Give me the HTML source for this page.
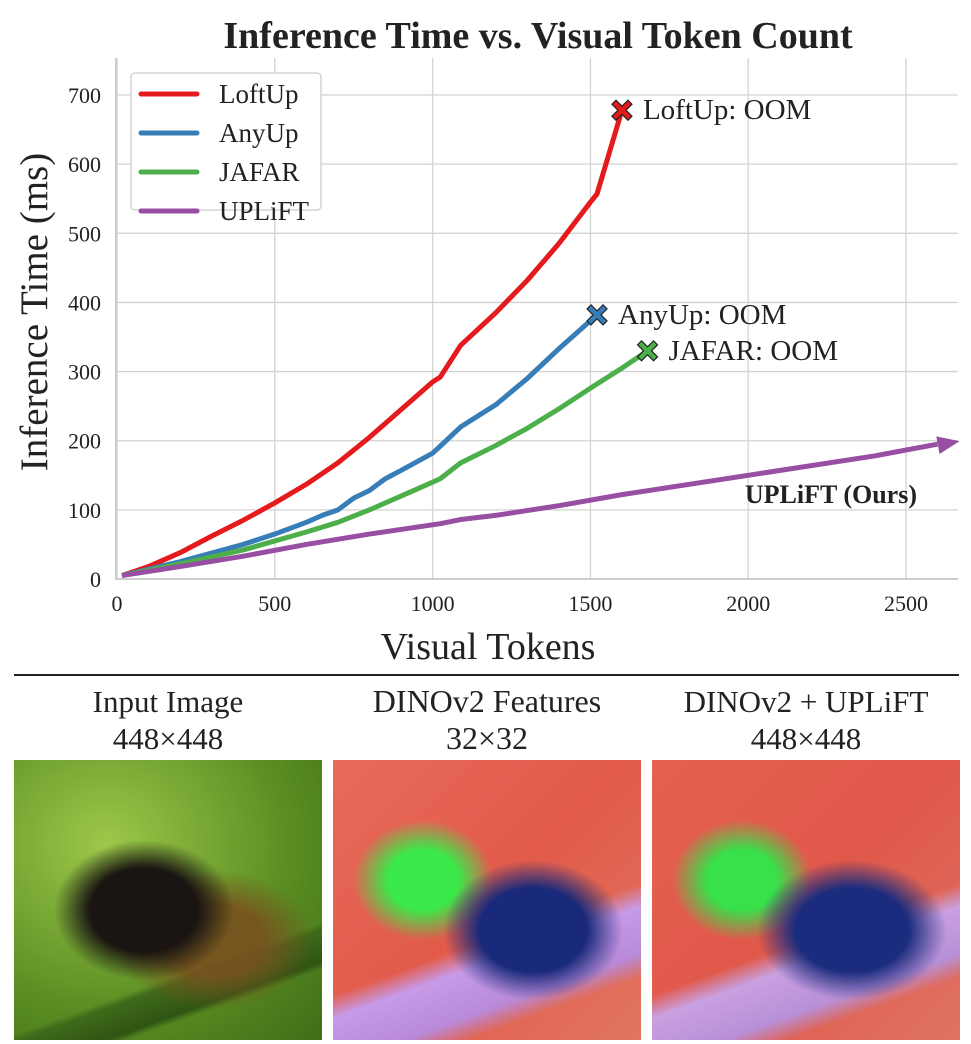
<!DOCTYPE html>
<html><head><meta charset="utf-8">
<style>
body{margin:0;background:#fff;width:971px;height:1044px;overflow:hidden;font-family:"Liberation Serif",serif;}
.cap{position:absolute;text-align:center;font-size:31px;color:#222;line-height:37px;width:308px;}
.img{position:absolute;top:760px;width:308px;height:280px;overflow:hidden;}
</style></head><body>
<svg id="chart" width="971" height="680" style="position:absolute;left:0;top:0" font-family="Liberation Serif, serif"></svg>
<div style="position:absolute;left:14px;top:674px;width:945px;height:1.5px;background:#222"></div>
<div class="cap" style="left:14px;top:683px">Input Image<br>448×448</div>
<div class="cap" style="left:333px;top:683px;font-size:32px">DINOv2 Features<br>32×32</div>
<div class="cap" style="left:652px;top:683px">DINOv2 + UPLiFT<br>448×448</div>
<div class="img" style="left:14px;background:
radial-gradient(ellipse 90px 70px at 130px 150px,#1a1512 60%,transparent 100%),
radial-gradient(ellipse 100px 70px at 200px 180px,rgba(120,80,30,.9) 50%,transparent 100%),
linear-gradient(160deg,transparent 70%,#3f6a1a 72%,#2e5512 80%,transparent 82%),
radial-gradient(ellipse at 30% 30%,#9cc84a,#5a8d22 60%,#3f6d18);"></div>
<div class="img" style="left:333px;background:
radial-gradient(ellipse 90px 70px at 200px 170px,#1a2a7a 60%,transparent 100%),
radial-gradient(ellipse 70px 60px at 90px 120px,#3be84a 50%,transparent 100%),
linear-gradient(160deg,transparent 60%,#c79ae8 66%,#b88ad8 78%,transparent 84%),
linear-gradient(135deg,#e86a5a,#e25b4a 50%,#e07560);"></div>
<div class="img" style="left:652px;background:
radial-gradient(ellipse 95px 70px at 200px 170px,#1b2c7e 60%,transparent 100%),
radial-gradient(ellipse 70px 60px at 90px 120px,#38e04a 50%,transparent 100%),
linear-gradient(160deg,transparent 60%,#c9a0e0 66%,#b890d8 78%,transparent 84%),
linear-gradient(135deg,#e5624f,#e0584a 50%,#de7364);"></div>
<script>
const xTicks=[0,500,1000,1500,2000,2500];
const yTicks=[0,100,200,300,400,500,600,700];
const loftX=[16,100,200,300,400,500,600,700,800,900,1000,1024,1089,1200,1300,1400,1500,1521,1600];
const loftY=[5,18,38,62,85,110,137,168,205,245,285,292,338,385,432,485,545,557,678];
const anyX=[16,200,400,500,600,650,700,750,800,850,900,1000,1024,1089,1200,1300,1400,1521];
const anyY=[5,25,50,65,82,92,100,117,128,145,157,182,192,220,252,290,333,382];
const jafX=[16,200,400,600,700,800,900,1000,1024,1089,1200,1300,1400,1500,1600,1681];
const jafY=[5,22,42,68,82,100,120,140,145,168,193,218,246,276,305,330];
const upX=[16,200,400,600,800,1024,1089,1200,1400,1600,2000,2400,2600];
const upY=[5,18,33,50,65,80,86,92,106,122,150,178,195];
const seriesNames=["LoftUp","AnyUp","JAFAR","UPLiFT"];
const colors=["#e41a1c","#377eb8","#4daf4a","#984ea3"];
const X=v=>117+v*0.3156, Y=v=>579-v*0.6914;
const svg=document.getElementById('chart');const NS="http://www.w3.org/2000/svg";
function el(t,a,p){const e=document.createElementNS(NS,t);for(const k in a)e.setAttribute(k,a[k]);(p||svg).appendChild(e);return e;}
const L=116,R=958,T=58,B=579;
xTicks.forEach(v=>{const g=el('line',{x1:X(v),x2:X(v),y1:T,y2:B,stroke:'#d3d3d3','stroke-width':1.3});

const t=el('text',{x:X(v),y:611,'text-anchor':'middle','font-size':22,fill:'#222'});t.textContent=v;
});
yTicks.forEach(v=>{const g=el('line',{x1:L,x2:R,y1:Y(v),y2:Y(v),stroke:'#d3d3d3','stroke-width':1.3});

const t=el('text',{x:101,y:Y(v)+8,'text-anchor':'end','font-size':22,fill:'#222'});t.textContent=v;
});
const sp=el('path',{d:`M${L},${T}V${B}H${R}`,fill:'none',stroke:'#ccc','stroke-width':2});

let t=el('text',{x:538,y:48,'text-anchor':'middle','font-size':38,'font-weight':'bold',fill:'#222'});t.textContent='Inference Time vs. Visual Token Count';

t=el('text',{x:488,y:659,'text-anchor':'middle','font-size':38,fill:'#222'});t.textContent='Visual Tokens';

t=el('text',{x:0,y:0,'text-anchor':'middle','font-size':39,fill:'#222',transform:'translate(47,312) rotate(-90)'});t.textContent='Inference Time (ms)';

const data=[[loftX,loftY],[anyX,anyY],[jafX,jafY],[upX,upY]];
data.forEach((d,i)=>{const pts=d[0].map((x,j)=>X(x)+','+Y(d[1][j])).join(' ');
const p=el('polyline',{points:pts,fill:'none',stroke:colors[i],'stroke-width':5,'stroke-linejoin':'round'});
});
const ax=X(upX[upX.length-1]),ay=Y(upY[upY.length-1]);
const ang=Math.atan2(Y(upY[12])-Y(upY[11]),X(upX[12])-X(upX[11]));
const hd=el('polygon',{points:`0,0 -22,-9 -22,9`,fill:colors[3],transform:`translate(${ax+22},${ay-3}) rotate(${ang*180/Math.PI})`});

t=el('text',{x:917,y:503,'text-anchor':'end','font-size':26,'font-weight':'bold',fill:'#222'});t.textContent='UPLiFT (Ours)';

[0,1,2].forEach(i=>{const d=data[i];const x=X(d[0][d[0].length-1]),y=Y(d[1][d[1].length-1]);
const m=el('path',{d:`M${x-6},${y-10}L${x},${y-4}L${x+6},${y-10}L${x+10},${y-6}L${x+4},${y}L${x+10},${y+6}L${x+6},${y+10}L${x},${y+4}L${x-6},${y+10}L${x-10},${y+6}L${x-4},${y}L${x-10},${y-6}Z`,fill:colors[i],stroke:'#222','stroke-width':1.2});

const tx=el('text',{x:x+21,y:y+9,'font-size':29,fill:'#222'});tx.textContent=seriesNames[i]+': OOM';
});
const lg=el('rect',{x:131,y:73,width:190,height:137,rx:4,fill:'#fff',stroke:'#ccc','stroke-width':1.3});

seriesNames.forEach((n,i)=>{const y=94+i*39;
const l=el('line',{x1:141,x2:197,y1:y,y2:y,stroke:colors[i],'stroke-width':5,'stroke-linecap':'round'});

const tt=el('text',{x:219,y:y+9,'font-size':27,fill:'#222'});tt.textContent=n;
});
</script>
</body></html>
